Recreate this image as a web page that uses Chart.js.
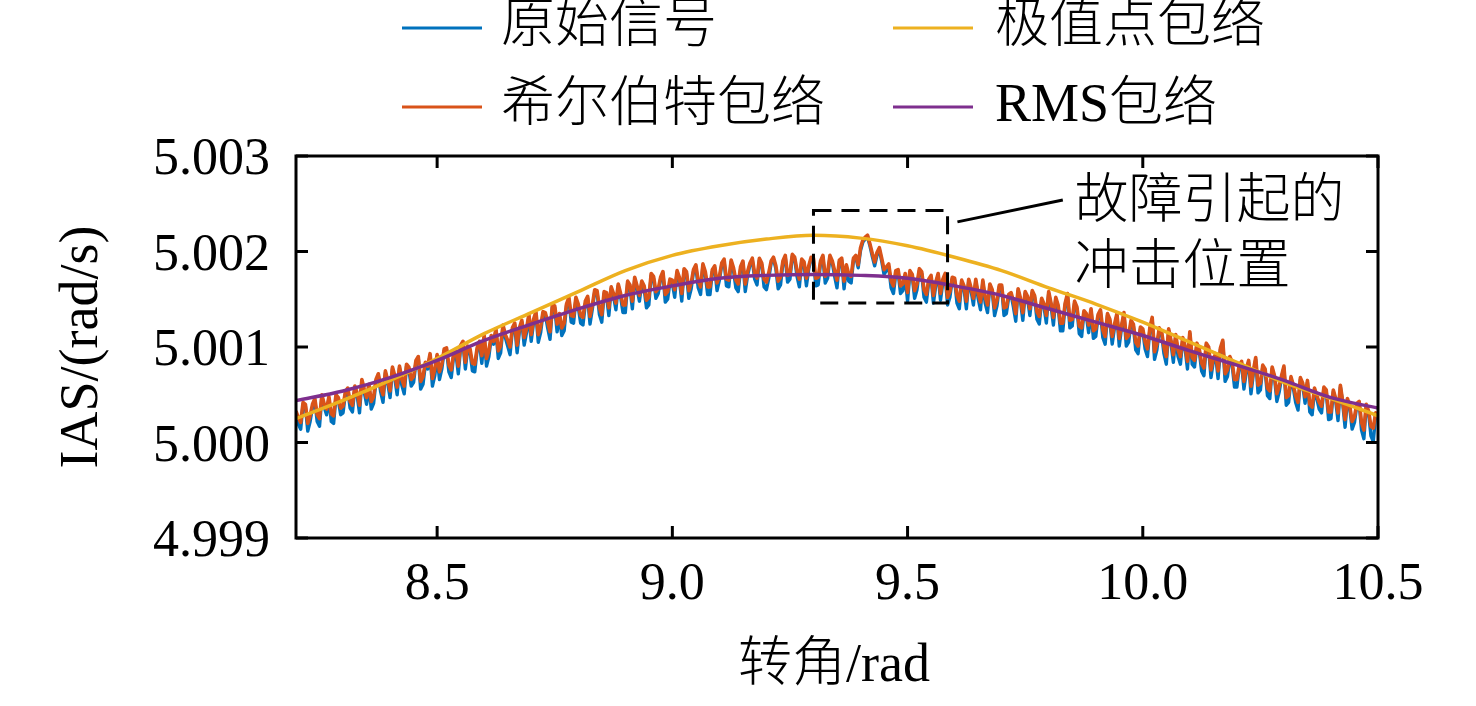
<!DOCTYPE html>
<html>
<head>
<meta charset="utf-8">
<title>IAS 包络对比</title>
<script src="https://cdn.jsdelivr.net/npm/chart.js@4.4.1/dist/chart.umd.min.js"></script>
<style>
    html, body { margin: 0; padding: 0; background: #fff; }
    #wrap { width: 1476px; height: 706px; }
</style>
</head>
<body>
<div id="wrap"><canvas id="iasChart" width="1476" height="706"></canvas></div>
<script>
(function () {
    "use strict";

    //------------------------------ data ------------------------------
    // 转角 (rad), 0.005 rad sampling
    var angle = [
        8.200, 8.205, 8.210, 8.215, 8.220, 8.225, 8.230, 8.235, 8.240, 8.245, 8.250, 8.255, 8.260, 8.265, 8.270, 8.275, 8.280, 8.285, 8.290, 8.295,
        8.300, 8.305, 8.310, 8.315, 8.320, 8.325, 8.330, 8.335, 8.340, 8.345, 8.350, 8.355, 8.360, 8.365, 8.370, 8.375, 8.380, 8.385, 8.390, 8.395,
        8.400, 8.405, 8.410, 8.415, 8.420, 8.425, 8.430, 8.435, 8.440, 8.445, 8.450, 8.455, 8.460, 8.465, 8.470, 8.475, 8.480, 8.485, 8.490, 8.495,
        8.500, 8.505, 8.510, 8.515, 8.520, 8.525, 8.530, 8.535, 8.540, 8.545, 8.550, 8.555, 8.560, 8.565, 8.570, 8.575, 8.580, 8.585, 8.590, 8.595,
        8.600, 8.605, 8.610, 8.615, 8.620, 8.625, 8.630, 8.635, 8.640, 8.645, 8.650, 8.655, 8.660, 8.665, 8.670, 8.675, 8.680, 8.685, 8.690, 8.695,
        8.700, 8.705, 8.710, 8.715, 8.720, 8.725, 8.730, 8.735, 8.740, 8.745, 8.750, 8.755, 8.760, 8.765, 8.770, 8.775, 8.780, 8.785, 8.790, 8.795,
        8.800, 8.805, 8.810, 8.815, 8.820, 8.825, 8.830, 8.835, 8.840, 8.845, 8.850, 8.855, 8.860, 8.865, 8.870, 8.875, 8.880, 8.885, 8.890, 8.895,
        8.900, 8.905, 8.910, 8.915, 8.920, 8.925, 8.930, 8.935, 8.940, 8.945, 8.950, 8.955, 8.960, 8.965, 8.970, 8.975, 8.980, 8.985, 8.990, 8.995,
        9.000, 9.005, 9.010, 9.015, 9.020, 9.025, 9.030, 9.035, 9.040, 9.045, 9.050, 9.055, 9.060, 9.065, 9.070, 9.075, 9.080, 9.085, 9.090, 9.095,
        9.100, 9.105, 9.110, 9.115, 9.120, 9.125, 9.130, 9.135, 9.140, 9.145, 9.150, 9.155, 9.160, 9.165, 9.170, 9.175, 9.180, 9.185, 9.190, 9.195,
        9.200, 9.205, 9.210, 9.215, 9.220, 9.225, 9.230, 9.235, 9.240, 9.245, 9.250, 9.255, 9.260, 9.265, 9.270, 9.275, 9.280, 9.285, 9.290, 9.295,
        9.300, 9.305, 9.310, 9.315, 9.320, 9.325, 9.330, 9.335, 9.340, 9.345, 9.350, 9.355, 9.360, 9.365, 9.370, 9.375, 9.380, 9.385, 9.390, 9.395,
        9.400, 9.405, 9.410, 9.415, 9.420, 9.425, 9.430, 9.435, 9.440, 9.445, 9.450, 9.455, 9.460, 9.465, 9.470, 9.475, 9.480, 9.485, 9.490, 9.495,
        9.500, 9.505, 9.510, 9.515, 9.520, 9.525, 9.530, 9.535, 9.540, 9.545, 9.550, 9.555, 9.560, 9.565, 9.570, 9.575, 9.580, 9.585, 9.590, 9.595,
        9.600, 9.605, 9.610, 9.615, 9.620, 9.625, 9.630, 9.635, 9.640, 9.645, 9.650, 9.655, 9.660, 9.665, 9.670, 9.675, 9.680, 9.685, 9.690, 9.695,
        9.700, 9.705, 9.710, 9.715, 9.720, 9.725, 9.730, 9.735, 9.740, 9.745, 9.750, 9.755, 9.760, 9.765, 9.770, 9.775, 9.780, 9.785, 9.790, 9.795,
        9.800, 9.805, 9.810, 9.815, 9.820, 9.825, 9.830, 9.835, 9.840, 9.845, 9.850, 9.855, 9.860, 9.865, 9.870, 9.875, 9.880, 9.885, 9.890, 9.895,
        9.900, 9.905, 9.910, 9.915, 9.920, 9.925, 9.930, 9.935, 9.940, 9.945, 9.950, 9.955, 9.960, 9.965, 9.970, 9.975, 9.980, 9.985, 9.990, 9.995,
        10.000, 10.005, 10.010, 10.015, 10.020, 10.025, 10.030, 10.035, 10.040, 10.045, 10.050, 10.055, 10.060, 10.065, 10.070, 10.075, 10.080, 10.085, 10.090, 10.095,
        10.100, 10.105, 10.110, 10.115, 10.120, 10.125, 10.130, 10.135, 10.140, 10.145, 10.150, 10.155, 10.160, 10.165, 10.170, 10.175, 10.180, 10.185, 10.190, 10.195,
        10.200, 10.205, 10.210, 10.215, 10.220, 10.225, 10.230, 10.235, 10.240, 10.245, 10.250, 10.255, 10.260, 10.265, 10.270, 10.275, 10.280, 10.285, 10.290, 10.295,
        10.300, 10.305, 10.310, 10.315, 10.320, 10.325, 10.330, 10.335, 10.340, 10.345, 10.350, 10.355, 10.360, 10.365, 10.370, 10.375, 10.380, 10.385, 10.390, 10.395,
        10.400, 10.405, 10.410, 10.415, 10.420, 10.425, 10.430, 10.435, 10.440, 10.445, 10.450, 10.455, 10.460, 10.465, 10.470, 10.475, 10.480, 10.485, 10.490, 10.495,
        10.500
    ];

    // 原始信号 IAS (rad/s)
    var rawSignal = [
        5.00031, 5.00019, 5.00014, 5.00040, 5.00038, 5.00012, 5.00022, 5.00037, 5.00044, 5.00022, 5.00017, 5.00048, 5.00037, 5.00029, 5.00046, 5.00022, 5.00020, 5.00048, 5.00044, 5.00029,
        5.00031, 5.00051, 5.00055, 5.00036, 5.00032, 5.00057, 5.00049, 5.00031, 5.00064, 5.00053, 5.00040, 5.00059, 5.00035, 5.00041, 5.00064, 5.00070, 5.00053, 5.00042, 5.00073, 5.00062,
        5.00047, 5.00077, 5.00067, 5.00050, 5.00078, 5.00060, 5.00051, 5.00080, 5.00076, 5.00059, 5.00063, 5.00084, 5.00088, 5.00056, 5.00061, 5.00082, 5.00077, 5.00091, 5.00059, 5.00070,
        5.00090, 5.00066, 5.00077, 5.00096, 5.00097, 5.00074, 5.00068, 5.00090, 5.00093, 5.00072, 5.00100, 5.00104, 5.00077, 5.00099, 5.00095, 5.00075, 5.00074, 5.00097, 5.00104, 5.00083,
        5.00110, 5.00080, 5.00090, 5.00110, 5.00103, 5.00117, 5.00088, 5.00094, 5.00121, 5.00110, 5.00101, 5.00092, 5.00118, 5.00123, 5.00094, 5.00117, 5.00126, 5.00102, 5.00115, 5.00132,
        5.00106, 5.00126, 5.00135, 5.00105, 5.00115, 5.00135, 5.00134, 5.00120, 5.00108, 5.00142, 5.00141, 5.00116, 5.00132, 5.00112, 5.00117, 5.00143, 5.00150, 5.00126, 5.00125, 5.00150,
        5.00142, 5.00125, 5.00123, 5.00145, 5.00151, 5.00124, 5.00140, 5.00158, 5.00157, 5.00134, 5.00126, 5.00156, 5.00154, 5.00133, 5.00161, 5.00153, 5.00139, 5.00164, 5.00153, 5.00136,
        5.00136, 5.00167, 5.00162, 5.00140, 5.00171, 5.00161, 5.00148, 5.00167, 5.00161, 5.00141, 5.00144, 5.00175, 5.00172, 5.00151, 5.00156, 5.00171, 5.00177, 5.00147, 5.00150, 5.00168,
        5.00167, 5.00152, 5.00178, 5.00170, 5.00148, 5.00180, 5.00177, 5.00151, 5.00161, 5.00179, 5.00184, 5.00162, 5.00155, 5.00185, 5.00176, 5.00155, 5.00155, 5.00179, 5.00183, 5.00159,
        5.00170, 5.00186, 5.00190, 5.00164, 5.00163, 5.00189, 5.00180, 5.00162, 5.00158, 5.00181, 5.00188, 5.00158, 5.00175, 5.00186, 5.00191, 5.00171, 5.00165, 5.00191, 5.00186, 5.00163,
        5.00160, 5.00172, 5.00188, 5.00192, 5.00182, 5.00161, 5.00165, 5.00188, 5.00194, 5.00168, 5.00171, 5.00195, 5.00192, 5.00174, 5.00163, 5.00190, 5.00186, 5.00164, 5.00182, 5.00192,
        5.00191, 5.00164, 5.00165, 5.00188, 5.00194, 5.00167, 5.00172, 5.00194, 5.00188, 5.00174, 5.00162, 5.00189, 5.00191, 5.00161, 5.00183, 5.00169, 5.00167, 5.00191, 5.00194, 5.00183,
        5.00201, 5.00210, 5.00213, 5.00215, 5.00206, 5.00195, 5.00185, 5.00196, 5.00202, 5.00190, 5.00176, 5.00180, 5.00184, 5.00162, 5.00156, 5.00177, 5.00178, 5.00156, 5.00159, 5.00174,
        5.00148, 5.00178, 5.00174, 5.00151, 5.00160, 5.00180, 5.00177, 5.00152, 5.00147, 5.00168, 5.00173, 5.00146, 5.00165, 5.00175, 5.00149, 5.00168, 5.00175, 5.00144, 5.00152, 5.00171,
        5.00170, 5.00146, 5.00140, 5.00168, 5.00161, 5.00140, 5.00169, 5.00159, 5.00144, 5.00169, 5.00151, 5.00139, 5.00168, 5.00146, 5.00136, 5.00164, 5.00158, 5.00133, 5.00143, 5.00163,
        5.00163, 5.00133, 5.00135, 5.00152, 5.00155, 5.00142, 5.00127, 5.00159, 5.00148, 5.00128, 5.00156, 5.00151, 5.00133, 5.00157, 5.00152, 5.00129, 5.00124, 5.00149, 5.00142, 5.00125,
        5.00156, 5.00143, 5.00123, 5.00150, 5.00142, 5.00117, 5.00117, 5.00144, 5.00154, 5.00120, 5.00122, 5.00146, 5.00140, 5.00114, 5.00111, 5.00136, 5.00133, 5.00115, 5.00138, 5.00109,
        5.00111, 5.00132, 5.00137, 5.00110, 5.00103, 5.00133, 5.00127, 5.00103, 5.00121, 5.00133, 5.00101, 5.00121, 5.00134, 5.00101, 5.00105, 5.00126, 5.00122, 5.00097, 5.00093, 5.00119,
        5.00117, 5.00098, 5.00090, 5.00118, 5.00129, 5.00087, 5.00097, 5.00118, 5.00114, 5.00093, 5.00082, 5.00117, 5.00104, 5.00084, 5.00111, 5.00090, 5.00082, 5.00108, 5.00098, 5.00077,
        5.00114, 5.00082, 5.00079, 5.00102, 5.00096, 5.00075, 5.00070, 5.00102, 5.00098, 5.00068, 5.00085, 5.00091, 5.00067, 5.00097, 5.00105, 5.00064, 5.00069, 5.00088, 5.00081, 5.00058,
        5.00058, 5.00079, 5.00083, 5.00056, 5.00074, 5.00084, 5.00051, 5.00072, 5.00087, 5.00052, 5.00055, 5.00079, 5.00075, 5.00049, 5.00046, 5.00077, 5.00068, 5.00043, 5.00053, 5.00068,
        5.00078, 5.00039, 5.00042, 5.00067, 5.00057, 5.00042, 5.00034, 5.00066, 5.00060, 5.00041, 5.00063, 5.00032, 5.00029, 5.00055, 5.00046, 5.00035, 5.00031, 5.00056, 5.00053, 5.00024,
        5.00025, 5.00053, 5.00044, 5.00023, 5.00058, 5.00041, 5.00016, 5.00044, 5.00036, 5.00014, 5.00021, 5.00039, 5.00041, 5.00013, 5.00004, 5.00038, 5.00031, 5.00007, 5.00001, 5.00029,
        5.00024
    ];

    // 希尔伯特包络 (rad/s)
    var hilbertEnv = [
        5.00033, 5.00026, 5.00021, 5.00042, 5.00040, 5.00020, 5.00028, 5.00040, 5.00046, 5.00029, 5.00025, 5.00050, 5.00040, 5.00035, 5.00048, 5.00030, 5.00028, 5.00050, 5.00047, 5.00036,
        5.00038, 5.00053, 5.00057, 5.00043, 5.00039, 5.00059, 5.00052, 5.00039, 5.00066, 5.00056, 5.00047, 5.00061, 5.00043, 5.00048, 5.00066, 5.00072, 5.00058, 5.00050, 5.00075, 5.00065,
        5.00054, 5.00079, 5.00070, 5.00058, 5.00080, 5.00066, 5.00059, 5.00082, 5.00079, 5.00066, 5.00069, 5.00086, 5.00090, 5.00064, 5.00069, 5.00084, 5.00080, 5.00093, 5.00067, 5.00077,
        5.00092, 5.00074, 5.00082, 5.00098, 5.00099, 5.00081, 5.00076, 5.00093, 5.00096, 5.00080, 5.00102, 5.00106, 5.00084, 5.00101, 5.00098, 5.00083, 5.00082, 5.00099, 5.00106, 5.00091,
        5.00112, 5.00088, 5.00096, 5.00112, 5.00106, 5.00119, 5.00096, 5.00101, 5.00123, 5.00113, 5.00107, 5.00100, 5.00120, 5.00125, 5.00102, 5.00120, 5.00128, 5.00110, 5.00119, 5.00134,
        5.00113, 5.00129, 5.00137, 5.00113, 5.00121, 5.00137, 5.00136, 5.00126, 5.00116, 5.00144, 5.00143, 5.00124, 5.00135, 5.00120, 5.00125, 5.00145, 5.00152, 5.00133, 5.00132, 5.00152,
        5.00145, 5.00133, 5.00131, 5.00148, 5.00153, 5.00132, 5.00144, 5.00160, 5.00159, 5.00141, 5.00134, 5.00158, 5.00157, 5.00141, 5.00163, 5.00156, 5.00146, 5.00166, 5.00156, 5.00144,
        5.00144, 5.00169, 5.00165, 5.00148, 5.00173, 5.00164, 5.00154, 5.00169, 5.00164, 5.00149, 5.00152, 5.00177, 5.00174, 5.00158, 5.00161, 5.00173, 5.00179, 5.00155, 5.00158, 5.00171,
        5.00170, 5.00160, 5.00180, 5.00173, 5.00156, 5.00182, 5.00179, 5.00159, 5.00167, 5.00181, 5.00186, 5.00169, 5.00163, 5.00187, 5.00179, 5.00163, 5.00163, 5.00181, 5.00185, 5.00167,
        5.00174, 5.00188, 5.00192, 5.00171, 5.00170, 5.00191, 5.00183, 5.00170, 5.00166, 5.00184, 5.00190, 5.00166, 5.00179, 5.00188, 5.00193, 5.00177, 5.00172, 5.00193, 5.00188, 5.00171,
        5.00168, 5.00178, 5.00190, 5.00194, 5.00185, 5.00169, 5.00173, 5.00190, 5.00196, 5.00175, 5.00177, 5.00197, 5.00194, 5.00180, 5.00171, 5.00192, 5.00189, 5.00172, 5.00185, 5.00194,
        5.00193, 5.00172, 5.00173, 5.00190, 5.00196, 5.00174, 5.00178, 5.00196, 5.00190, 5.00180, 5.00170, 5.00191, 5.00193, 5.00169, 5.00186, 5.00176, 5.00174, 5.00193, 5.00196, 5.00186,
        5.00204, 5.00212, 5.00215, 5.00217, 5.00208, 5.00198, 5.00189, 5.00199, 5.00204, 5.00193, 5.00181, 5.00184, 5.00187, 5.00169, 5.00164, 5.00180, 5.00181, 5.00164, 5.00166, 5.00177,
        5.00157, 5.00180, 5.00176, 5.00159, 5.00166, 5.00182, 5.00179, 5.00160, 5.00155, 5.00171, 5.00175, 5.00154, 5.00168, 5.00177, 5.00156, 5.00171, 5.00177, 5.00152, 5.00158, 5.00173,
        5.00172, 5.00154, 5.00148, 5.00170, 5.00164, 5.00148, 5.00171, 5.00162, 5.00151, 5.00171, 5.00156, 5.00147, 5.00170, 5.00152, 5.00144, 5.00166, 5.00160, 5.00141, 5.00149, 5.00165,
        5.00165, 5.00141, 5.00142, 5.00155, 5.00157, 5.00148, 5.00135, 5.00161, 5.00151, 5.00136, 5.00158, 5.00153, 5.00140, 5.00159, 5.00154, 5.00137, 5.00132, 5.00151, 5.00145, 5.00133,
        5.00158, 5.00146, 5.00131, 5.00152, 5.00144, 5.00125, 5.00125, 5.00146, 5.00156, 5.00128, 5.00129, 5.00148, 5.00142, 5.00122, 5.00120, 5.00138, 5.00135, 5.00123, 5.00140, 5.00117,
        5.00119, 5.00134, 5.00139, 5.00118, 5.00111, 5.00135, 5.00129, 5.00111, 5.00124, 5.00135, 5.00109, 5.00123, 5.00136, 5.00109, 5.00112, 5.00128, 5.00124, 5.00105, 5.00101, 5.00121,
        5.00119, 5.00105, 5.00098, 5.00120, 5.00131, 5.00095, 5.00103, 5.00120, 5.00116, 5.00100, 5.00090, 5.00119, 5.00107, 5.00092, 5.00113, 5.00097, 5.00090, 5.00110, 5.00101, 5.00085,
        5.00116, 5.00089, 5.00086, 5.00104, 5.00098, 5.00083, 5.00078, 5.00104, 5.00100, 5.00076, 5.00088, 5.00093, 5.00075, 5.00099, 5.00107, 5.00072, 5.00076, 5.00090, 5.00084, 5.00066,
        5.00066, 5.00081, 5.00085, 5.00064, 5.00077, 5.00086, 5.00059, 5.00075, 5.00089, 5.00060, 5.00062, 5.00081, 5.00077, 5.00057, 5.00054, 5.00079, 5.00070, 5.00051, 5.00059, 5.00070,
        5.00080, 5.00047, 5.00049, 5.00069, 5.00060, 5.00049, 5.00042, 5.00068, 5.00062, 5.00048, 5.00065, 5.00040, 5.00037, 5.00057, 5.00049, 5.00042, 5.00038, 5.00058, 5.00055, 5.00032,
        5.00032, 5.00055, 5.00046, 5.00031, 5.00060, 5.00043, 5.00024, 5.00046, 5.00038, 5.00022, 5.00027, 5.00041, 5.00043, 5.00021, 5.00013, 5.00040, 5.00033, 5.00017, 5.00015, 5.00031,
        5.00028
    ];

    // smooth envelopes, 0.1 rad grid
    var envAngle = [8.2, 8.3, 8.4, 8.5, 8.6, 8.7, 8.8, 8.9, 9.0, 9.1, 9.2, 9.3,
                    9.4, 9.5, 9.6, 9.7, 9.8, 9.9, 10.0, 10.1, 10.2, 10.3, 10.4, 10.5];
    // 极值点包络
    var extremeEnv = [5.00025, 5.00044, 5.00065, 5.00088, 5.00114, 5.00136, 5.00158, 5.00180,
                      5.00196, 5.00206, 5.00213, 5.00217, 5.00214, 5.00206, 5.00194, 5.00180,
                      5.00162, 5.00145, 5.00126, 5.00105, 5.00084, 5.00063, 5.00046, 5.00028];
    // RMS包络
    var rmsEnv = [5.00044, 5.00054, 5.00068, 5.00086, 5.00107, 5.00124, 5.00140, 5.00154,
                  5.00164, 5.00172, 5.00175, 5.00176, 5.00175, 5.00172, 5.00164, 5.00154,
                  5.00140, 5.00126, 5.00112, 5.00096, 5.00081, 5.00065, 5.00047, 5.00036];

    var xTicks = [8.5, 9.0, 9.5, 10.0, 10.5];
    var xTickLabels = ['8.5', '9.0', '9.5', '10.0', '10.5'];
    var yTicks = [4.999, 5.000, 5.001, 5.002, 5.003];
    var yTickLabels = ['4.999', '5.000', '5.001', '5.002', '5.003'];

    // 故障冲击标注 (data coords)
    var faultBox = { x0: 9.30, x1: 9.585, y0: 5.00146, y1: 5.00243 };
    var faultLeader = { x0: 9.606, y0: 5.00231, x1: 9.830, y1: 5.00254 };
    var faultText = ['故障引起的', '冲击位置'];
    var faultTextPos = { x: 9.855, y: 5.00250 };

    //------------------------------ style ------------------------------
    var C_BLUE = '#0072BD', C_ORANGE = '#D95319', C_YELLOW = '#EDB120', C_PURPLE = '#7E2F8E';
    var FONT = '"Liberation Serif", "Noto Sans CJK SC", serif';

    var legendItems = [
        { label: '原始信号', color: C_BLUE, col: 0, row: 0 },
        { label: '极值点包络', color: C_YELLOW, col: 1, row: 0 },
        { label: '希尔伯特包络', color: C_ORANGE, col: 0, row: 1 },
        { label: 'RMS包络', color: C_PURPLE, col: 1, row: 1 }
    ];

    function toPoints(xs, ys) {
        var pts = [];
        for (var i = 0; i < xs.length; i++) {
            pts.push({ x: xs[i], y: ys[i] });
        }
        return pts;
    }

    function seg(ctx, x0, y0, x1, y1) {
        ctx.beginPath();
        ctx.moveTo(x0, y0);
        ctx.lineTo(x1, y1);
        ctx.stroke();
    }

    //------------------------------ decor plugin ------------------------------
    var figureDecor = {
        id: 'figureDecor',
        afterDatasetsDraw: function (chart) {
            var ctx = chart.ctx;
            var a = chart.chartArea;
            var xs = chart.scales.x, ys = chart.scales.y;
            ctx.save();

            // dashed box round the fault impact
            var bx0 = xs.getPixelForValue(faultBox.x0), bx1 = xs.getPixelForValue(faultBox.x1);
            var by0 = ys.getPixelForValue(faultBox.y1), by1 = ys.getPixelForValue(faultBox.y0);
            ctx.strokeStyle = '#000';
            ctx.lineWidth = 3;
            ctx.setLineDash([18, 10]);
            ctx.strokeRect(bx0, by0, bx1 - bx0, by1 - by0);
            ctx.setLineDash([]);

            // leader line
            seg(ctx, xs.getPixelForValue(faultLeader.x0), ys.getPixelForValue(faultLeader.y0),
                xs.getPixelForValue(faultLeader.x1), ys.getPixelForValue(faultLeader.y1));

            ctx.fillStyle = '#000';
            ctx.font = '300 54px ' + FONT;
            ctx.textAlign = 'left';
            ctx.textBaseline = 'middle';
            var tx = xs.getPixelForValue(faultTextPos.x), ty = ys.getPixelForValue(faultTextPos.y);
            for (var k = 0; k < faultText.length; k++) {
                ctx.fillText(faultText[k], tx, ty + k * 66);
            }

            // axes box
            ctx.lineWidth = 3;
            ctx.strokeRect(a.left, a.top, a.right - a.left, a.bottom - a.top);

            // inward ticks on all four sides
            var tl = 12;
            xTicks.forEach(function (v) {
                var px = xs.getPixelForValue(v);
                seg(ctx, px, a.bottom, px, a.bottom - tl);
                seg(ctx, px, a.top, px, a.top + tl);
            });
            yTicks.forEach(function (v) {
                var py = ys.getPixelForValue(v);
                seg(ctx, a.left, py, a.left + tl, py);
                seg(ctx, a.right, py, a.right - tl, py);
            });

            // tick labels
            ctx.font = '52px ' + FONT;
            ctx.textBaseline = 'alphabetic';
            ctx.textAlign = 'center';
            xTicks.forEach(function (v, i) {
                ctx.fillText(xTickLabels[i], xs.getPixelForValue(v), a.bottom + 61);
            });
            ctx.textAlign = 'right';
            yTicks.forEach(function (v, i) {
                ctx.fillText(yTickLabels[i], a.left - 26, ys.getPixelForValue(v) + 18);
            });

            // axis titles
            ctx.font = '300 54px ' + FONT;
            ctx.textBaseline = 'middle';
            ctx.textAlign = 'center';
            ctx.fillText('转角/rad', 834, 667);
            ctx.save();
            ctx.translate(83, (a.top + a.bottom) / 2);
            ctx.rotate(-Math.PI / 2);
            ctx.fillText('IAS/(rad/s)', 0, 0);
            ctx.restore();

            // legend, two columns
            var colLine = [402, 893], colText = [501, 995], rowY = [28, 107];
            ctx.textAlign = 'left';
            legendItems.forEach(function (it) {
                var lx = colLine[it.col], ly = rowY[it.row];
                ctx.strokeStyle = it.color;
                ctx.lineWidth = 3;
                seg(ctx, lx, ly, lx + 80, ly);
                ctx.fillStyle = '#000';
                ctx.fillText(it.label, colText[it.col], ly);
            });

            ctx.restore();
        }
    };

    //------------------------------ chart ------------------------------
    var ctxChart = document.getElementById('iasChart').getContext('2d');
    var iasChart = new Chart(ctxChart, {
        type: 'line',
        data: {
            datasets: [
                {
                    label: 'RMS包络', data: toPoints(envAngle, rmsEnv),
                    borderColor: C_PURPLE, borderWidth: 3.5, cubicInterpolationMode: 'monotone', order: 0
                },
                {
                    label: '极值点包络', data: toPoints(envAngle, extremeEnv),
                    borderColor: C_YELLOW, borderWidth: 3.5, cubicInterpolationMode: 'monotone', order: 1
                },
                {
                    label: '希尔伯特包络', data: toPoints(angle, hilbertEnv),
                    borderColor: C_ORANGE, borderWidth: 3.6, tension: 0, order: 2
                },
                {
                    label: '原始信号', data: toPoints(angle, rawSignal),
                    borderColor: C_BLUE, borderWidth: 3.4, tension: 0, order: 3
                }
            ]
        },
        options: {
            responsive: false,
            devicePixelRatio: 1,
            animation: false,
            events: [],
            elements: { point: { radius: 0 }, line: { fill: false, borderJoinStyle: 'round' } },
            layout: { padding: { left: 0, right: 98, top: 156, bottom: 0 } },
            plugins: { legend: { display: false }, tooltip: { enabled: false } },
            scales: {
                x: {
                    type: 'linear', min: 8.2, max: 10.5,
                    grid: { display: false, drawTicks: false },
                    border: { display: false },
                    ticks: { display: false },
                    afterFit: function (scale) { scale.height = 168; }
                },
                y: {
                    type: 'linear', min: 4.999, max: 5.003,
                    grid: { display: false, drawTicks: false },
                    border: { display: false },
                    ticks: { display: false },
                    afterFit: function (scale) { scale.width = 296; }
                }
            }
        },
        plugins: [figureDecor]
    });
})();
</script>
</body>
</html>
